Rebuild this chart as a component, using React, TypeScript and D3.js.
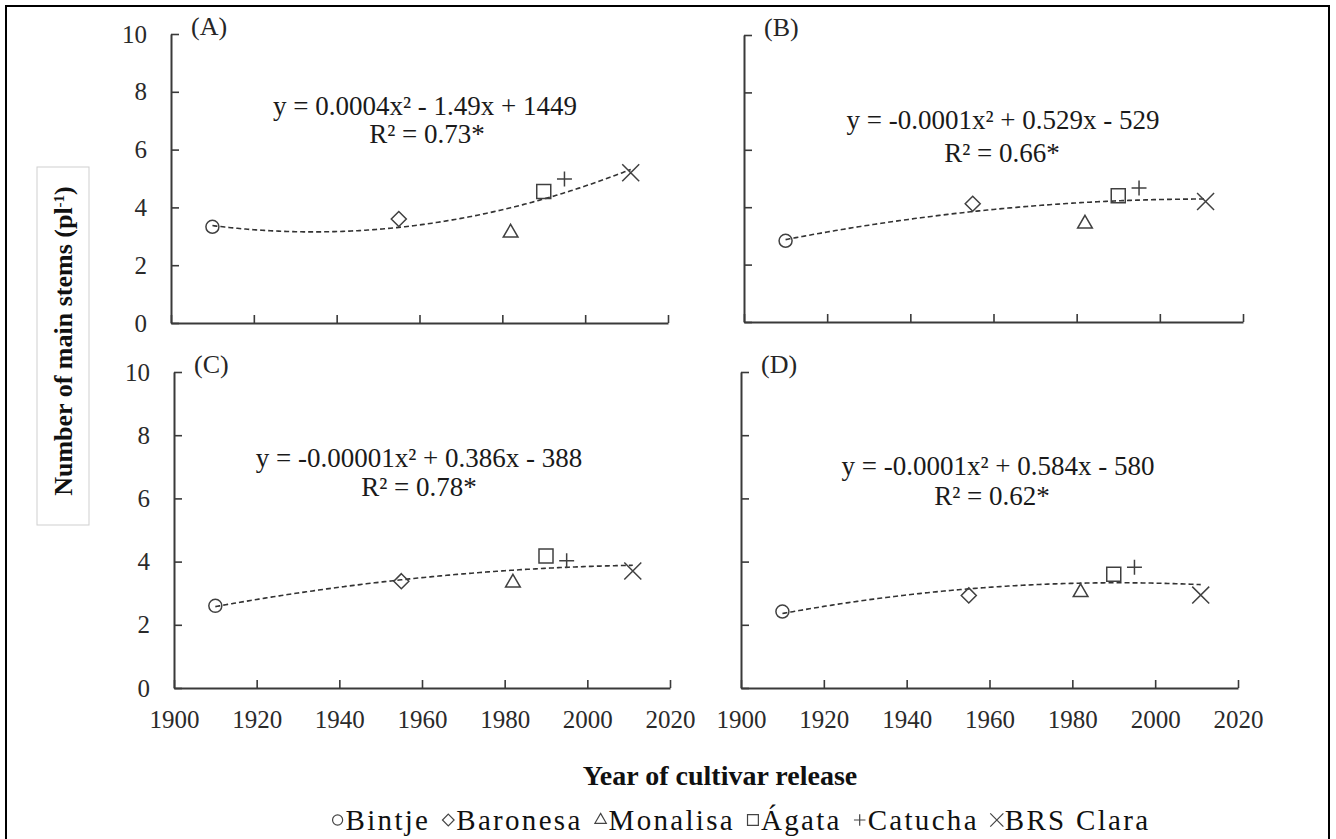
import React, { useEffect, useRef } from 'react';
import * as d3 from 'd3';

const W = 1336;
const H = 839;

// cultivars and their release years (x position of each marker)
const cultivars = ['Bintje', 'Baronesa', 'Monalisa', 'Ágata', 'Catucha', 'BRS Clara'];
const releaseYears = [1910, 1955, 1982, 1990, 1995, 2011];

// number of main stems per plant, one array per panel
const stemsA = [3.33, 3.6, 3.12, 4.55, 4.98, 5.2];
const stemsB = [2.83, 4.12, 3.42, 4.4, 4.67, 4.2];
const stemsC = [2.6, 3.38, 3.33, 4.18, 4.03, 3.7];
const stemsD = [2.42, 2.93, 3.03, 3.6, 3.82, 2.94];

const panelLetters = ['(A)', '(B)', '(C)', '(D)'];
const equations = [
  'y = 0.0004x² - 1.49x + 1449',
  'y = -0.0001x² + 0.529x - 529',
  'y = -0.00001x² + 0.386x - 388',
  'y = -0.0001x² + 0.584x - 580',
];
const r2Labels = ['R² = 0.73*', 'R² = 0.66*', 'R² = 0.78*', 'R² = 0.62*'];

const xTicks = [1900, 1920, 1940, 1960, 1980, 2000, 2020];
const yTicks = [0, 2, 4, 6, 8, 10];

const FONT = '"Liberation Serif", "Times New Roman", serif';
const INK = '#3a3a3a';

// layout of the four panels (pixels)
const panels = [
  { values: stemsA, x0: 171, x1: 668, yTop: 34, yBottom: 323, eqX: 425, eqY: 106, r2X: 427, r2Y: 134, xLabels: false, yLabels: true },
  { values: stemsB, x0: 744, x1: 1243, yTop: 35, yBottom: 322, eqX: 1003, eqY: 120, r2X: 1002, r2Y: 153, xLabels: false, yLabels: false },
  { values: stemsC, x0: 174, x1: 670, yTop: 372, yBottom: 688, eqX: 419, eqY: 458, r2X: 419, r2Y: 487, xLabels: true, yLabels: true },
  { values: stemsD, x0: 741, x1: 1238, yTop: 372, yBottom: 688, eqX: 998, eqY: 466, r2X: 992, r2Y: 496, xLabels: true, yLabels: false },
];

const sym: any = d3;
const symbolTypes = [
  d3.symbolCircle,
  sym.symbolDiamond2 || d3.symbolDiamond,
  sym.symbolTriangle2 || d3.symbolTriangle,
  sym.symbolSquare2 || d3.symbolSquare,
  d3.symbolPlus,
  sym.symbolX || d3.symbolCross,
];
const symbolSizes = [133, 144, 155, 250, 75, 190];

// least squares quadratic (what the spreadsheet trendline does)
function quadFit(xs: number[], ys: number[]) {
  const m = d3.mean(xs) as number;
  const S = [0, 0, 0, 0, 0];
  const T = [0, 0, 0];
  xs.forEach((xv, i) => {
    const t = xv - m;
    for (let k = 0; k < 5; k++) S[k] += t ** k;
    for (let k = 0; k < 3; k++) T[k] += t ** k * ys[i];
  });
  const M = [
    [S[0], S[1], S[2]],
    [S[1], S[2], S[3]],
    [S[2], S[3], S[4]],
  ];
  const det = (A: number[][]) =>
    A[0][0] * (A[1][1] * A[2][2] - A[1][2] * A[2][1]) -
    A[0][1] * (A[1][0] * A[2][2] - A[1][2] * A[2][0]) +
    A[0][2] * (A[1][0] * A[2][1] - A[1][1] * A[2][0]);
  const D = det(M);
  const col = (j: number) => M.map((row, r) => row.map((v, c) => (c === j ? T[r] : v)));
  const a = det(col(0)) / D;
  const b = det(col(1)) / D;
  const c = det(col(2)) / D;
  return (xv: number) => a + b * (xv - m) + c * (xv - m) ** 2;
}

const App = () => {
  const svgRef = useRef<SVGSVGElement>(null);

  useEffect(() => {
    const svg = d3.select(svgRef.current);
    svg.selectAll('*').remove();

    svg.append('rect').attr('width', W).attr('height', H).attr('fill', '#fff');

    // outer frame
    svg.append('rect')
      .attr('x', 6).attr('y', 6)
      .attr('width', 1323).attr('height', 860)
      .attr('fill', 'none').attr('stroke', '#000').attr('stroke-width', 2);

    panels.forEach((p, pi) => {
      const x = d3.scaleLinear().domain([1900, 2020]).range([p.x0, p.x1]);
      const y = d3.scaleLinear().domain([0, 10]).range([p.yBottom, p.yTop]);
      const g = svg.append('g');

      // axes, ticks pointing inwards
      const gx = g.append('g')
        .attr('transform', `translate(0,${p.yBottom})`)
        .call(
          d3.axisBottom(x)
            .tickValues(xTicks)
            .tickSizeInner(-8)
            .tickSizeOuter(0)
            .tickPadding(22)
            .tickFormat(p.xLabels ? (d3.format('d') as any) : () => '')
        );
      const gy = g.append('g')
        .attr('transform', `translate(${p.x0},0)`)
        .call(
          d3.axisLeft(y)
            .tickValues(yTicks)
            .tickSizeInner(-8)
            .tickSizeOuter(0)
            .tickPadding(24)
            .tickFormat(p.yLabels ? (d3.format('d') as any) : () => '')
        );
      [gx, gy].forEach((ax) => {
        ax.attr('font-family', FONT);
        ax.select('.domain').attr('stroke', INK).attr('stroke-width', 2);
        ax.selectAll('.tick line').attr('stroke', INK).attr('stroke-width', 1.6);
        ax.selectAll('.tick text')
          .attr('fill', '#2a2a2a')
          .style('font-family', FONT)
          .style('font-size', '25px');
      });

      // panel letter
      g.append('text')
        .attr('x', p.x0 + 20).attr('y', p.yTop + 1)
        .attr('fill', '#262626')
        .style('font-family', FONT).style('font-size', '26px')
        .text(panelLetters[pi]);

      // dashed polynomial trendline
      const f = quadFit(releaseYears, p.values);
      const xs = d3.range(d3.min(releaseYears) as number, (d3.max(releaseYears) as number) + 0.01, 0.5);
      const line = d3.line<number>().x((d) => x(d)).y((d) => y(f(d)));
      g.append('path')
        .datum(xs)
        .attr('d', line)
        .attr('fill', 'none')
        .attr('stroke', '#333')
        .attr('stroke-width', 1.6)
        .attr('stroke-dasharray', '5,3');

      // open markers
      p.values.forEach((v, i) => {
        g.append('path')
          .attr('d', d3.symbol(symbolTypes[i], symbolSizes[i])() as string)
          .attr('transform', `translate(${x(releaseYears[i])},${y(v)})`)
          .attr('fill', 'none')
          .attr('stroke', '#404040')
          .attr('stroke-width', 1.5);
      });

      // equation + R²
      g.append('text')
        .attr('x', p.eqX).attr('y', p.eqY).attr('dy', '0.34em')
        .attr('text-anchor', 'middle')
        .attr('fill', '#1a1a1a')
        .style('font-family', FONT).style('font-size', '27px')
        .text(equations[pi]);
      g.append('text')
        .attr('x', p.r2X).attr('y', p.r2Y).attr('dy', '0.34em')
        .attr('text-anchor', 'middle')
        .attr('fill', '#1a1a1a')
        .style('font-family', FONT).style('font-size', '27px')
        .text(r2Labels[pi]);
    });

    // y-axis title in a light box
    svg.append('rect')
      .attr('x', 37).attr('y', 167).attr('width', 52).attr('height', 358)
      .attr('fill', '#fff').attr('stroke', '#cfcfcf').attr('stroke-width', 1);
    const yt = svg.append('text')
      .attr('transform', 'translate(72,341) rotate(-90)')
      .attr('text-anchor', 'middle')
      .attr('fill', '#111')
      .style('font-family', FONT).style('font-size', '26px').style('font-weight', 'bold');
    yt.append('tspan').text('Number of main stems  (pl');
    yt.append('tspan').attr('baseline-shift', 'super').style('font-size', '15px').text('-1');
    yt.append('tspan').text(')');

    // x-axis title
    svg.append('text')
      .attr('x', 720).attr('y', 785)
      .attr('text-anchor', 'middle')
      .attr('fill', '#111')
      .style('font-family', FONT).style('font-size', '28px').style('font-weight', 'bold')
      .text('Year of cultivar release');

    // legend, laid out left to right by measured text widths
    const legend = svg.append('g');
    let cursor = 0;
    cultivars.forEach((name, i) => {
      legend.append('path')
        .attr('d', d3.symbol(symbolTypes[i], symbolSizes[i] * 0.6)() as string)
        .attr('transform', `translate(${cursor + 6},0)`)
        .attr('fill', 'none')
        .attr('stroke', '#444')
        .attr('stroke-width', 1.2);
      const t = legend.append('text')
        .attr('x', cursor + 14).attr('y', 0).attr('dy', '0.34em')
        .attr('fill', '#111')
        .style('font-family', FONT).style('font-size', '29px').style('letter-spacing', '2.3px')
        .text(name);
      const w = (t.node() as SVGTextElement).getComputedTextLength();
      cursor += 14 + w + 12;
    });
    const total = cursor - 12;
    legend.attr('transform', `translate(${741 - total / 2},820)`);
  }, []);

  return (
    <svg
      ref={svgRef}
      width={W}
      height={H}
      style={{ position: 'absolute', left: 0, top: 0, display: 'block' }}
    />
  );
};

export default App;
